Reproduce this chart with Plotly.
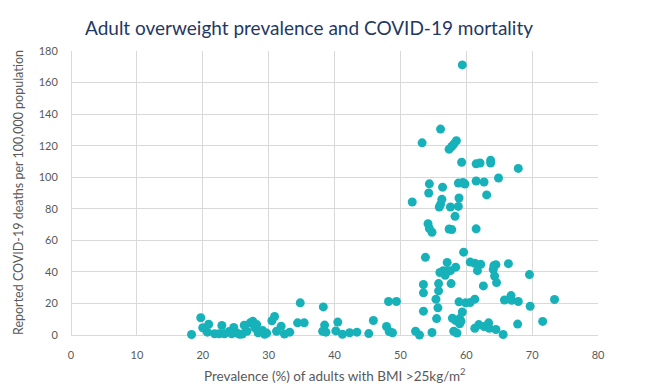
import plotly.graph_objects as go

# Prevalence (%) of adults with BMI > 25 kg/m2
prevalence = [
    18.3, 19.7, 20.0, 20.9, 20.7, 21.8, 22.5, 22.9, 23.3, 24.0,
    24.7, 25.2, 25.6, 26.3, 26.7, 27.2, 27.6, 27.9, 28.2, 28.4,
    29.1, 29.7, 30.5, 30.9, 31.2, 31.9, 32.4, 33.2, 34.4, 34.8,
    35.4, 38.3, 38.5, 38.2, 38.7, 40.5, 40.2, 41.2, 42.3, 43.4,
    45.2, 45.9, 47.9, 48.2, 49.4, 48.3, 48.8, 26.0, 29.4, 24.4,
    51.8, 52.3, 52.9, 53.3, 53.5, 53.5, 53.5, 53.8, 54.2, 54.4,
    54.8, 54.3, 54.4, 54.8, 55.5, 55.4, 55.8, 55.8, 55.7, 55.9,
    56.1, 56.3, 56.4, 56.1, 56.0, 56.5, 56.8, 57.1, 57.1, 57.6,
    58.4, 57.7, 57.6, 58.3, 58.8, 58.9, 57.4, 57.8, 57.4, 57.8,
    58.1, 58.5, 59.4, 59.3, 58.8, 59.5, 59.8, 57.9, 58.4, 59.0,
    59.2, 59.0, 58.1, 58.6, 58.9, 59.9, 60.6, 61.3, 59.4, 59.6,
    60.6, 61.5, 61.5, 62.1, 63.7, 63.7, 67.9, 61.5, 62.7, 64.9,
    63.1, 61.3, 62.2, 61.7, 64.2, 64.5, 64.1, 64.3, 64.6, 66.4,
    62.6, 69.6, 65.8, 66.8, 66.9, 67.9, 69.7, 73.4, 71.6, 67.8,
    61.3, 61.9, 62.7, 63.4, 63.5, 64.5, 65.6,
]

# Reported COVID-19 deaths per 100,000 population
deaths = [
    0.3, 10.9, 4.6, 6.8, 1.8, 0.8, 0.8, 6.0, 0.8, 2.2,
    4.8, 1.2, 0.5, 6.2, 2.4, 7.7, 8.7, 4.6, 6.6, 1.4,
    2.8, 1.2, 9.0, 11.7, 2.4, 5.6, 0.6, 1.8, 7.7, 20.4,
    7.7, 17.8, 6.3, 2.4, 1.8, 8.2, 2.6, 0.5, 1.4, 1.8,
    0.9, 9.2, 5.4, 21.2, 21.2, 2.2, 1.4, 0.6, 0.4, 0.8,
    84.3, 2.4, 0.0, 121.8, 32.0, 26.7, 15.1, 49.2, 70.5, 67.5,
    65.1, 90.0, 95.8, 1.6, 10.4, 22.7, 32.6, 28.0, 17.2, 81.1,
    82.8, 86.0, 93.7, 130.5, 39.6, 40.8, 37.8, 40.8, 46.0, 40.8,
    43.0, 32.6, 81.1, 75.2, 81.5, 86.8, 67.2, 66.8, 117.8, 119.5,
    121.0, 123.1, 171.2, 109.5, 96.3, 96.7, 95.7, 10.6, 9.2, 10.4,
    8.7, 7.1, 2.4, 1.2, 21.0, 20.4, 20.6, 22.7, 14.6, 52.5,
    46.2, 67.3, 108.5, 109.0, 110.7, 109.0, 105.6, 97.6, 97.0, 99.5,
    88.8, 45.5, 44.8, 40.8, 44.0, 44.6, 41.5, 37.4, 33.2, 45.2,
    31.1, 38.3, 22.2, 25.0, 22.0, 21.2, 18.2, 22.5, 8.6, 6.9,
    4.3, 6.6, 5.4, 7.7, 4.3, 3.5, 0.3,
]

x_ticks = [0, 10, 20, 30, 40, 50, 60, 70, 80]
y_ticks = [0, 20, 40, 60, 80, 100, 120, 140, 160, 180]

FONT = "Lato, Carlito, 'Open Sans', sans-serif"
GRID = "#D9D9D9"
TICK = "#595959"

fig = go.Figure(
    go.Scatter(
        x=prevalence,
        y=deaths,
        mode="markers",
        marker=dict(color="#17B2B9", size=9, line=dict(width=0)),
        hoverinfo="x+y",
        cliponaxis=False,
    )
)

PL, PR, PT, PB = 71, 598, 51, 335.5
W, H = 660, 392
PW, PH = PR - PL, PB - PT

fig.update_layout(
    width=W,
    height=H,
    margin=dict(l=PL, r=W - PR, t=PT, b=H - PB, autoexpand=False),
    paper_bgcolor="white",
    plot_bgcolor="white",
    showlegend=False,
    font=dict(family=FONT, color=TICK, size=11),
    xaxis=dict(
        range=[0, 80],
        tickvals=x_ticks,
        showgrid=True,
        gridcolor=GRID,
        gridwidth=1,
        zeroline=True,
        zerolinecolor=GRID,
        zerolinewidth=1,
        showline=False,
        ticks="outside",
        ticklen=10,
        tickcolor="rgba(0,0,0,0)",
        tickfont=dict(size=11, color=TICK),
        automargin=False,
    ),
    yaxis=dict(
        range=[0, 180],
        tickvals=y_ticks,
        showgrid=True,
        gridcolor=GRID,
        gridwidth=1,
        zeroline=True,
        zerolinecolor=GRID,
        zerolinewidth=1,
        showline=False,
        ticks="outside",
        ticklen=10,
        tickcolor="rgba(0,0,0,0)",
        tickfont=dict(size=11, color=TICK),
        automargin=False,
    ),
    annotations=[
        dict(
            text="Adult overweight prevalence and COVID-19 mortality",
            xref="paper", yref="paper",
            x=(309 - PL) / PW, y=1 + (PT - 27) / PH,
            xanchor="center", yanchor="middle",
            showarrow=False,
            font=dict(family=FONT, size=19, color="#1F3864"),
        ),
        dict(
            text="Prevalence (%) of adults with BMI >25kg/m<sup>2</sup>",
            xref="paper", yref="paper",
            x=0.5, y=-(376 - PB) / PH,
            xanchor="center", yanchor="middle",
            showarrow=False,
            font=dict(family=FONT, size=13.5, color=TICK),
        ),
        dict(
            text="Reported COVID-19 deaths per 100,000 population",
            xref="paper", yref="paper",
            x=-(PL - 18) / PW, y=0.5,
            xanchor="center", yanchor="middle",
            textangle=-90,
            showarrow=False,
            font=dict(family=FONT, size=12.5, color=TICK),
        ),
    ],
)

fig.write_html(
    "out.html",
    config={"displayModeBar": False},
    post_script="document.body.style.margin='0px';document.body.style.padding='0px';",
)
